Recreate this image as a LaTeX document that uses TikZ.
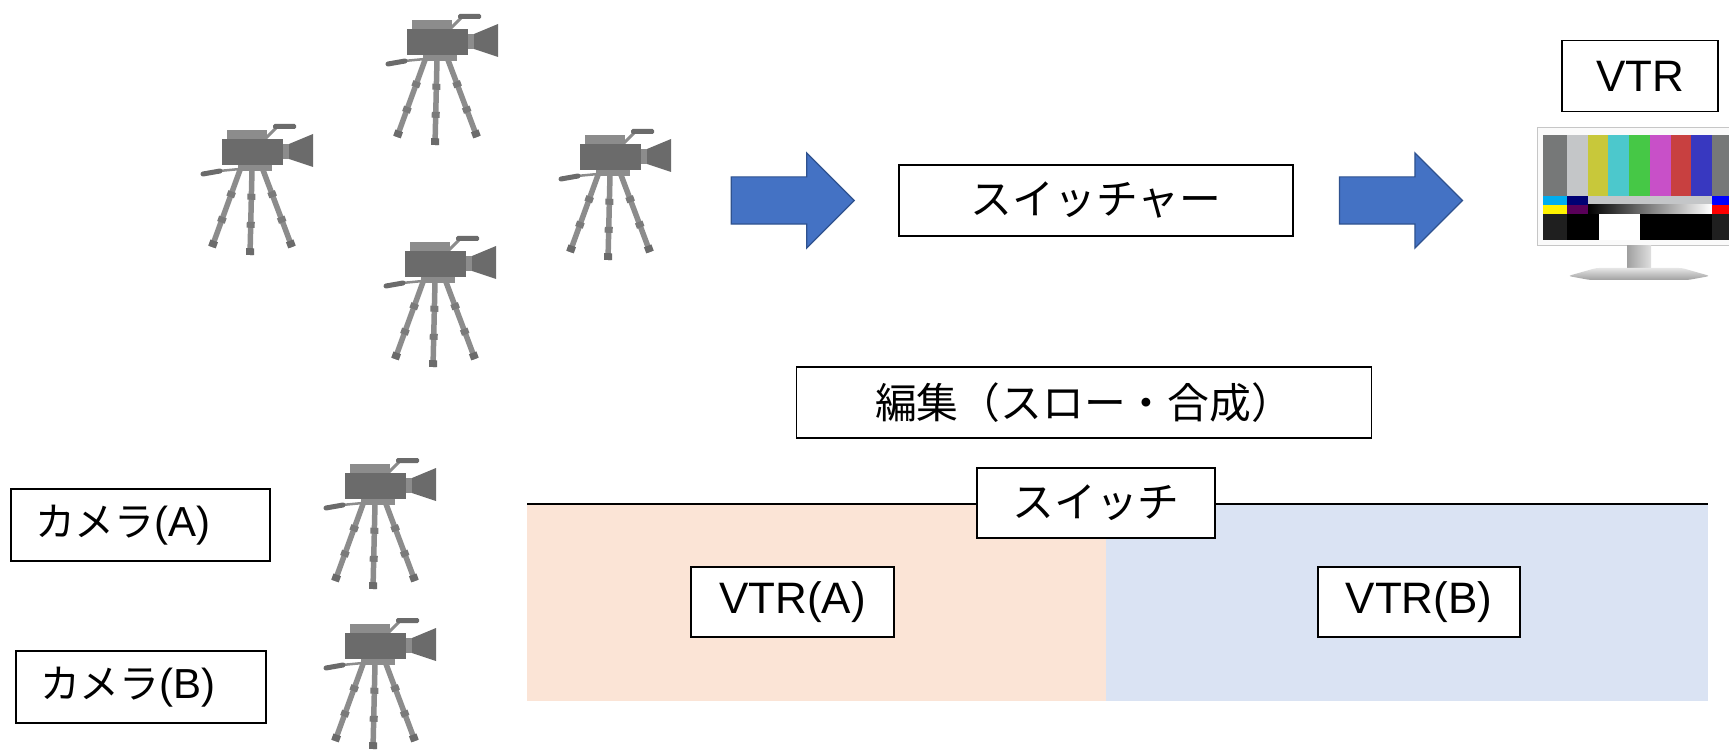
\documentclass[tikz,border=0pt]{standalone}
\usepackage{fontspec}
\setmainfont{Liberation Sans}
\newfontfamily\cjk[Scale=0.95]{Noto Sans CJK JP}
\usepackage{tikz}
\usetikzlibrary{positioning,calc,shapes.arrows}

\definecolor{camdark}{HTML}{6B6B6B}
\definecolor{camlight}{HTML}{8C8C8C}
\definecolor{arrfill}{HTML}{4472C4}
\definecolor{arredge}{HTML}{2F528F}
\definecolor{peach}{HTML}{FBE4D6}
\definecolor{paleblue}{HTML}{DAE3F3}
\definecolor{bargray}{HTML}{767878}
\definecolor{barsilver}{HTML}{C4C6C8}
\definecolor{baryellow}{HTML}{C8C83A}
\definecolor{barcyan}{HTML}{4CC8CC}
\definecolor{bargreen}{HTML}{46C846}
\definecolor{barmagenta}{HTML}{C850C8}
\definecolor{barred}{HTML}{C84040}
\definecolor{barblue}{HTML}{3838C0}

\tikzset{
  camera/.pic={
    \foreach \ax/\ay/\bx/\by in {45/58/17/135,57/58/55/143,68/58/97/135}{
      \draw[camlight,line width=5.5pt] (\ax,\ay) -- (\bx,\by);
      \foreach \t in {0.28,0.61}
        \draw[camdark!90,line width=8pt] ($(\ax,\ay)!\t!(\bx,\by)$) -- ($(\ax,\ay)!\t+0.07!(\bx,\by)$);
      \draw[camdark,line width=8pt] ($(\ax,\ay)!0.92!(\bx,\by)$) -- (\bx,\by);
    }
    \fill[camlight] (32,18) rectangle (72,27);
    \draw[camlight,line width=3pt] (70,27) -- (81,16);
    \fill[camdark,rounded corners=1.5pt] (78,12) rectangle (101,17);
    \fill[camdark] (27,27) rectangle (88,53);
    \fill[camlight] (88,32) rectangle (94,47);
    \fill[camdark] (94,32) -- (118,22) -- (118,55) -- (94,47) -- cycle;
    \fill[camlight] (43,53) rectangle (77,59);
    \draw[camlight,line width=2.5pt] (45,57) -- (24,59);
    \draw[camdark,line width=5pt,line cap=round] (25,59) -- (8,62);
  }
}

\begin{document}
\begin{tikzpicture}[
  x=1pt,y=-1pt,
  box/.style={draw,fill=white,line width=1.8pt,inner sep=0pt,minimum height=71pt,
    font=\fontsize{44pt}{50pt}\selectfont},
  camlabel/.style={box,align=left,inner xsep=24pt,minimum height=72pt,
    font=\fontsize{42pt}{48pt}\selectfont},
  blockarrow/.style={single arrow,draw=arredge,fill=arrfill,line width=1.2pt,
    inner xsep=0pt,inner ysep=23pt,single arrow head extend=24pt,
    minimum height=123pt}]
\useasboundingbox (0,0) rectangle (1729,751);

% cameras
\pic at (195,112) {camera};
\pic at (380,2) {camera};
\pic at (553,117) {camera};
\pic at (378,224) {camera};
\pic at (318,446) {camera};
\pic at (318,606) {camera};

% monitor with colour bars
\filldraw[fill=gray!4,draw=gray!45,line width=1pt] (1537,128) rectangle (1740,246);
\foreach \xa/\xb/\c in {1543/1567/bargray,1567/1588/barsilver,1588/1608/baryellow,
    1608/1629/barcyan,1629/1650/bargreen,1650/1671/barmagenta,
    1671/1691/barred,1691/1712/barblue,1712/1740/bargray}
  \fill[\c] (\xa,135) rectangle (\xb,196);
\fill[cyan] (1543,196) rectangle (1567,205);
\fill[blue!45!black] (1567,196) rectangle (1588,205);
\fill[barsilver] (1588,196) rectangle (1712,205);
\fill[blue] (1712,196) rectangle (1740,205);
\fill[yellow] (1543,205) rectangle (1567,214);
\fill[violet!70!black] (1567,205) rectangle (1588,214);
\shade[left color=black,right color=white] (1588,205) rectangle (1712,214);
\fill[red] (1712,205) rectangle (1740,214);
\fill[black!88] (1543,214) rectangle (1567,240);
\fill[black] (1567,214) rectangle (1740,240);
\fill[white] (1599,214) rectangle (1640,240);
\fill[black!88] (1712,214) rectangle (1740,240);
\shade[left color=gray!75,right color=gray!25] (1627,246) rectangle (1651,270);
\shade[top color=gray!20,bottom color=gray!75,rounded corners=3pt]
  (1568,276) -- (1596,268) -- (1682,268) -- (1710,276) -- (1688,280) -- (1590,280) -- cycle;

% edit lanes
\fill[peach] (527,504) rectangle (1106,701);
\fill[paleblue] (1106,504) rectangle (1708,701);
\draw[line width=2.5pt] (527,504) -- (1708,504);

\node[box,minimum width=394pt] (sw) at (1096,200.5) {\cjk スイッチャー};
\node[blockarrow,left=43pt of sw] (arrin) {};
\node[blockarrow,right=45pt of sw] (arrout) {};
\node[box,minimum width=156pt] (vtr) at (1640,76) {VTR};
\node[box,minimum width=575pt] (edit) at (1084,402.5) {\cjk 編集（スロー・合成）};
\node[box,minimum width=238pt,minimum height=70pt] (cut) at (1096,503) {\cjk スイッチ};
\node[box,minimum width=203pt,minimum height=70pt] (vtra) at (792.5,602) {VTR(A)};
\node[box,minimum width=202pt,minimum height=70pt] (vtrb) at (1419,602) {VTR(B)};
\node[camlabel,text width=211pt] (cama) at (140.5,525) {{\cjk カメラ}(A)};
\node[camlabel,text width=202pt] (camb) at (141,687) {{\cjk カメラ}(B)};
\end{tikzpicture}
\end{document}
